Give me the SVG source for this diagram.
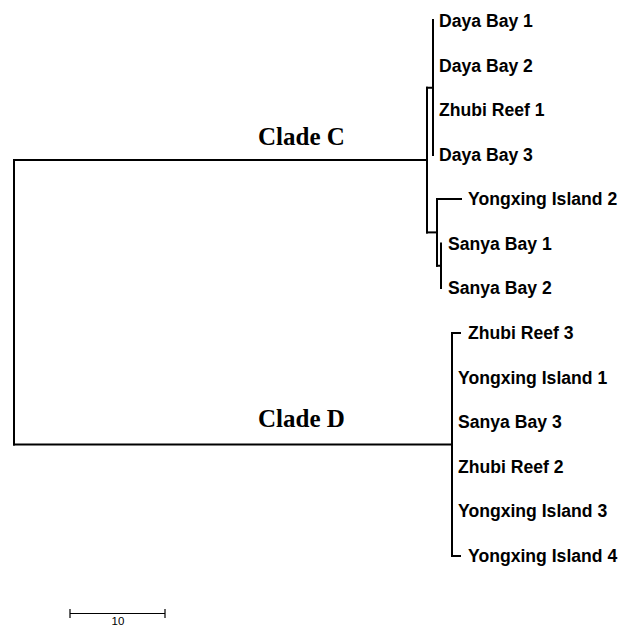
<svg xmlns="http://www.w3.org/2000/svg" width="629" height="628" viewBox="0 0 629 628">
<style>
.br{fill:none;stroke:#000;stroke-width:2;stroke-linecap:square}
.lab{font-family:"Liberation Sans",Arial,sans-serif;font-weight:bold;font-size:17.6px;fill:#000}
.clade{font-family:"Liberation Serif","Times New Roman",serif;font-weight:bold;font-size:25px;fill:#000}
.sc{font-family:"Liberation Sans",Arial,sans-serif;font-size:11.5px;fill:#000}
</style>
<rect width="629" height="628" fill="#fff"/>
<g id="connectors">
<path class="br" d="M14,160 V444.5"/>
<path class="br" d="M14,160 H427"/>
<path class="br" d="M427,87.75 V232.4"/>
<path class="br" d="M427,87.75 H433"/>
<path class="br" d="M433,20 V155"/>
<path class="br" d="M427,232.4 H437"/>
<path class="br" d="M437,199 V265.75"/>
<path class="br" d="M437,199 H461"/>
<path class="br" d="M437,265.75 H441"/>
<path class="br" d="M441,243.5 V288"/>
<path class="br" d="M14,444.5 H452"/>
<path class="br" d="M452,333 V556"/>
<path class="br" d="M452,333 H460"/>
<path class="br" d="M452,556 H460"/>
</g>
<g id="clade-labels">
<text id="cladeC" class="clade" x="258" y="145">Clade C</text>
<text id="cladeD" class="clade" x="258" y="427">Clade D</text>
</g>
<g id="leaf-daya1"><text class="lab" x="439" y="27">Daya Bay 1</text></g>
<g id="leaf-daya2"><text class="lab" x="439" y="71.5">Daya Bay 2</text></g>
<g id="leaf-zhubi1"><text class="lab" x="439" y="116">Zhubi Reef 1</text></g>
<g id="leaf-daya3"><text class="lab" x="439" y="160.5">Daya Bay 3</text></g>
<g id="leaf-yongxing2"><text class="lab" x="468" y="205">Yongxing Island 2</text></g>
<g id="leaf-sanya1"><text class="lab" x="448" y="249.5">Sanya Bay 1</text></g>
<g id="leaf-sanya2"><text class="lab" x="448" y="294">Sanya Bay 2</text></g>
<g id="leaf-zhubi3"><text class="lab" x="468" y="339">Zhubi Reef 3</text></g>
<g id="leaf-yongxing1"><text class="lab" x="458" y="383.5">Yongxing Island 1</text></g>
<g id="leaf-sanya3"><text class="lab" x="458" y="428">Sanya Bay 3</text></g>
<g id="leaf-zhubi2"><text class="lab" x="458" y="472.5">Zhubi Reef 2</text></g>
<g id="leaf-yongxing3"><text class="lab" x="458" y="517">Yongxing Island 3</text></g>
<g id="leaf-yongxing4"><text class="lab" x="468" y="561.5">Yongxing Island 4</text></g>
<g id="scale-bar">
<path d="M70,613.5 H165 M70,609 V618 M165,609 V618" fill="none" stroke="#000" stroke-width="1.2"/>
<text class="sc" x="118" y="625" text-anchor="middle">10</text>
</g>
</svg>
